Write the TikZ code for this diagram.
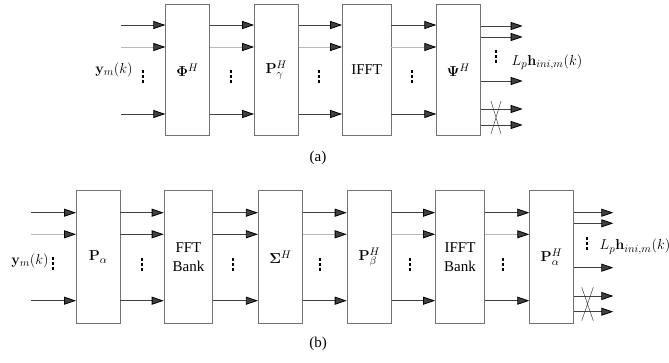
\documentclass[tikz,border=0pt]{standalone}
\usepackage[no-math]{fontspec}
\setmainfont{Liberation Serif}
\usepackage{tikz}
\usetikzlibrary{positioning, arrows.meta}

\definecolor{linedark}{gray}{0.25}
\definecolor{linelight}{gray}{0.72}
\definecolor{boxline}{gray}{0.45}

\tikzset{
  blk/.style={draw=boxline, line width=0.8pt, fill=white, inner sep=0pt,
    minimum width=43.6pt, minimum height=131.5pt, align=center},
  arr/.style={-{Triangle[length=12pt,width=8pt,color=black]}, line width=0.8pt, color=linedark},
  light/.style={draw=linelight},
  vdot/.style={line width=2pt, dash pattern=on 3pt off 2pt},
  xmark/.style={line width=0.5pt, draw=linedark}
}

\begin{document}
\begin{tikzpicture}[x=1pt, y=1pt, font=\fontsize{15}{19}\selectfont]

    \useasboundingbox (0,0) rectangle (669,362);

    % (a)
    \node[blk] (phi) at (187.5,292) {$\mathbf{\Phi}^H$};
    \node[blk] (pg) [right=44.4pt of phi] {$\mathbf{P}_{\gamma}^H$};
    \node[blk, minimum width=48.4pt] (ifft) [right=43.6pt of pg] {IFFT};
    \node[blk] (psi) [right=45pt of ifft] {$\mathbf{\Psi}^H$};

    \coordinate (ain1) at (121,337);
    \coordinate (ain2) at (121,315);
    \coordinate (ain3) at (121,248);
    \coordinate (aout1) at (522.7,336);
    \coordinate (aout2) at (522.7,325);
    \coordinate (aout3) at (522.7,281);
    \coordinate (aout4) at (522.7,253);
    \coordinate (aout5) at (522.7,237);

    \node (ay) at (114,292) {$\mathbf{y}_m(k)$};
    \node (ah) at (547,300) {$L_p\mathbf{h}_{ini,m}(k)$};
    \node (capa) at (318,204) {(a)};

    \path[arr]
        (ain1) edge (phi.west |- ain1)
        (ain2) edge[light] (phi.west |- ain2)
        (ain3) edge (phi.west |- ain3)
        (phi.east |- ain1) edge (pg.west |- ain1)
        (phi.east |- ain2) edge[light] (pg.west |- ain2)
        (phi.east |- ain3) edge (pg.west |- ain3)
        (pg.east |- ain1) edge (ifft.west |- ain1)
        (pg.east |- ain2) edge[light] (ifft.west |- ain2)
        (pg.east |- ain3) edge (ifft.west |- ain3)
        (ifft.east |- ain1) edge (psi.west |- ain1)
        (ifft.east |- ain2) edge[light] (psi.west |- ain2)
        (ifft.east |- ain3) edge (psi.west |- ain3)
        (psi.east |- aout1) edge (aout1)
        (psi.east |- aout2) edge (aout2)
        (psi.east |- aout3) edge (aout3)
        (psi.east |- aout4) edge (aout4)
        (psi.east |- aout5) edge (aout5);

    \draw[vdot] (143,292) -- (143,279);
    \draw[vdot] (231,292) -- (231,279);
    \draw[vdot] (319,292) -- (319,279);
    \draw[vdot] (411.7,292) -- (411.7,279);
    \draw[vdot] (495.7,312) -- (495.7,299);
    \draw[xmark] (491,261) -- (501,228) (501,261) -- (491,228);

    % (b)
    \node[blk, minimum height=132.6pt] (pa) at (98.2,105) {$\mathbf{P}_{\alpha}$};
    \node[blk, minimum height=132.6pt, minimum width=48.7pt] (fftb) [right=43.3pt of pa] {FFT\\Bank};
    \node[blk, minimum height=132.6pt, minimum width=44.3pt] (sig) [right=44.7pt of fftb] {$\mathbf{\Sigma}^H$};
    \node[blk, minimum height=132.6pt, minimum width=44.6pt] (pb) [right=43.7pt of sig] {$\mathbf{P}_{\beta}^H$};
    \node[blk, minimum height=132.6pt, minimum width=49pt] (ifftb) [right=43pt of pb] {IFFT\\Bank};
    \node[blk, minimum height=132.6pt] (pah) [right=44.4pt of ifftb] {$\mathbf{P}_{\alpha}^H$};

    \coordinate (bin1) at (31,149.3);
    \coordinate (bin2) at (31,127.7);
    \coordinate (bin3) at (31,61.3);
    \coordinate (bout1) at (613.3,149.3);
    \coordinate (bout2) at (613.3,138.7);
    \coordinate (bout3) at (613.3,94.3);
    \coordinate (bout4) at (613.3,66);
    \coordinate (bout5) at (613.3,50.3);

    \node (by) at (30,101) {$\mathbf{y}_m(k)$};
    \node (bh) at (635,115.3) {$L_p\mathbf{h}_{ini,m}(k)$};
    \node (capb) at (318,18) {(b)};

    \path[arr]
        (bin1) edge (pa.west |- bin1)
        (bin2) edge[light] (pa.west |- bin2)
        (bin3) edge (pa.west |- bin3)
        (pa.east |- bin1) edge (fftb.west |- bin1)
        (pa.east |- bin2) edge (fftb.west |- bin2)
        (pa.east |- bin3) edge (fftb.west |- bin3)
        (fftb.east |- bin1) edge (sig.west |- bin1)
        (fftb.east |- bin2) edge (sig.west |- bin2)
        (fftb.east |- bin3) edge (sig.west |- bin3)
        (sig.east |- bin1) edge (pb.west |- bin1)
        (sig.east |- bin2) edge[light] (pb.west |- bin2)
        (sig.east |- bin3) edge (pb.west |- bin3)
        (pb.east |- bin1) edge (ifftb.west |- bin1)
        (pb.east |- bin2) edge[light] (ifftb.west |- bin2)
        (pb.east |- bin3) edge (ifftb.west |- bin3)
        (ifftb.east |- bin1) edge (pah.west |- bin1)
        (ifftb.east |- bin2) edge[light] (pah.west |- bin2)
        (ifftb.east |- bin3) edge (pah.west |- bin3)
        (pah.east |- bout1) edge (bout1)
        (pah.east |- bout2) edge (bout2)
        (pah.east |- bout3) edge (bout3)
        (pah.east |- bout4) edge (bout4)
        (pah.east |- bout5) edge (bout5);

    \draw[vdot] (53,105) -- (53,92);
    \draw[vdot] (141.7,104) -- (141.7,91);
    \draw[vdot] (233.3,104) -- (233.3,91);
    \draw[vdot] (320,104) -- (320,91);
    \draw[vdot] (410,104) -- (410,91);
    \draw[vdot] (503.3,104) -- (503.3,91);
    \draw[vdot] (586.7,125) -- (586.7,112);
    \draw[xmark] (581.7,74.7) -- (593.3,41.3) (593.3,74.7) -- (581.7,41.3);

\end{tikzpicture}
\end{document}
